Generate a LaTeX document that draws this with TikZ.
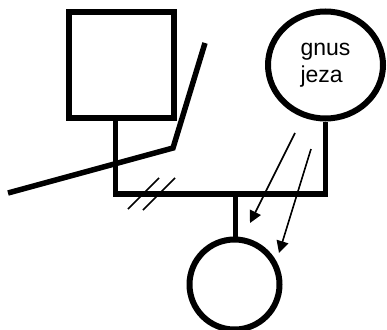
\documentclass[tikz,border=0pt]{standalone}
\usepackage{fontspec}
\setmainfont{Liberation Sans}
\usepackage{tikz}
\usetikzlibrary{arrows.meta,shapes.geometric}
\tikzset{
  person/.style  ={draw=black, line width=6pt, inner sep=0pt, fill=white},
  male/.style    ={person, rectangle, minimum size=105pt},
  female/.style  ={person, ellipse, minimum width=115pt, minimum height=107pt,
                   align=left, font=\fontsize{23}{27}\selectfont},
  child/.style   ={person, circle, minimum size=90pt},
  rel/.style     ={line width=5.5pt},
  cross/.style   ={line width=5.5pt, line join=miter},
  hash/.style    ={line width=1.5pt},
  hint/.style    ={-{Triangle[length=12pt,width=12pt]}, line width=1.6pt},
}
\begin{document}
\begin{tikzpicture}[x=1pt, y=-1pt]
    \useasboundingbox (0,0) rectangle (387,329);
    % parents (top)
    \node[male]   (father) at (121,65) {};
    \node[female] (mother) at (325.5,65) {gnus\\jeza};
    % child (bottom)
    \node[child]  (kid) at (234.5,284.5) {};

    % couple line and descent
    \coordinate (couple) at (235.5,194);
    \draw[rel] ([xshift=-5.5pt]father.south) |- (couple) -| (mother.south);
    \draw[rel] (couple) -- ([xshift=1pt]kid.north);

    % separation marks
    \coordinate (h1a) at (128,209);
    \coordinate (h1b) at (159,178);
    \coordinate (h2a) at (143,210);
    \coordinate (h2b) at (175,178);
    \draw[hash] (h1a) -- (h1b);
    \draw[hash] (h2a) -- (h2b);

    % struck-through line
    \coordinate (s1) at (8,193);
    \coordinate (s2) at (173,148);
    \coordinate (s3) at (205,43);
    \draw[cross] (s1) -- (s2) -- (s3);

    % arrows towards the child
    \coordinate (a1) at (295,133);
    \coordinate (a1t) at (250,223);
    \coordinate (a2) at (311,149);
    \coordinate (a2t) at (279,253);
    \draw[hint] (a1) -- (a1t);
    \draw[hint] (a2) -- (a2t);
\end{tikzpicture}
\end{document}
